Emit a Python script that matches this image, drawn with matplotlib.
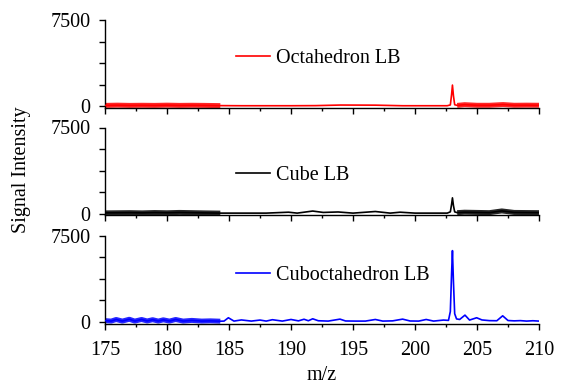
import matplotlib
matplotlib.use("Agg")
import matplotlib.pyplot as plt
import numpy as np

plt.rcParams['font.family'] = ['Liberation Serif', 'DejaVu Serif']
plt.rcParams['font.size'] = 14.5

# ---------------- data ----------------
oct_mz = [175, 176, 177, 178, 179, 180, 181, 182, 183, 184.3, 186, 188, 190, 192,
          194, 196.8, 199, 201, 202.6, 202.85, 202.95, 203.02, 203.1, 203.2, 203.4,
          204, 205, 206, 207.1, 208, 209, 210]
oct_int = [60, 80, 60, 70, 60, 80, 60, 70, 60, 40, 30, 30, 30, 40,
           90, 80, 30, 30, 30, 100, 1000, 1830, 900, 120, 60,
           120, 70, 70, 130, 70, 80, 70]

cube_mz = [175, 176, 177, 178, 179, 180, 181, 182, 183, 184.3, 186, 188, 189.8, 190.5,
           191.75, 192.6, 193.8, 195, 196.8, 198, 198.8, 200, 201.5, 202.6, 202.85,
           202.95, 203.02, 203.1, 203.2, 203.4, 204, 205, 206, 207.0, 208, 209, 210]
cube_int = [60, 70, 80, 60, 90, 70, 100, 80, 60, 40, 40, 40, 120, 40,
            220, 100, 140, 40, 180, 40, 120, 40, 40, 40, 150,
            800, 1370, 700, 150, 80, 120, 100, 80, 230, 100, 90, 80]

cub_mz = [175, 175.5, 175.9, 176.4, 176.96, 177.4, 177.95, 178.4, 178.84, 179.3, 179.7,
          180.2, 180.7, 181.3, 182, 182.8, 183.5, 184.3, 184.6, 184.95, 185.4, 186,
          186.8, 187.5, 188, 188.5, 189.3, 190, 190.6, 191.05, 191.4, 191.75, 192.2,
          193, 193.95, 194.4, 195.2, 196, 196.8, 197.4, 198.2, 199.0, 199.6, 200.3,
          200.9, 201.5, 202.3, 202.7, 202.85, 202.95, 203.02, 203.1, 203.2, 203.35,
          203.6, 204.03, 204.4, 204.97, 205.4, 206, 206.6, 207.07, 207.5, 208, 208.5,
          209, 209.5, 210]
cub_int = [100, 60, 200, 60, 220, 60, 200, 70, 180, 60, 170,
           60, 200, 60, 120, 60, 80, 50, 60, 350, 60, 160,
           60, 150, 60, 180, 60, 200, 80, 220, 90, 260, 90,
           60, 230, 70, 60, 60, 200, 60, 80, 230, 70, 60,
           200, 60, 150, 120, 900, 4200, 6200, 3500, 700, 250,
           200, 580, 150, 350, 160, 100, 90, 520, 110, 80, 100,
           60, 90, 60]

series = [
    ("Octahedron LB", oct_mz, oct_int, "#ff0000", [(175, 184.3), (203.3, 210)]),
    ("Cube LB", cube_mz, cube_int, "#000000", [(175, 184.3), (203.3, 210)]),
    ("Cuboctahedron LB", cub_mz, cub_int, "#0000ff", [(175, 184.3)]),
]

xticks = [175, 180, 185, 190, 195, 200, 205, 210]
yticks = [0, 7500]

# ---------------- layout ----------------
W, H = 562, 391
fig = plt.figure(figsize=(W / 100, H / 100), dpi=100)
left_px, right_px = 105, 539
tops_px = [20, 127.5, 235.7]
height_px = 87.8
leg_y_px = [58.3, 175, 275.7]

axes = []
for i, (name, mz, inten, col, thick) in enumerate(series):
    top = tops_px[i]
    ax = fig.add_axes([left_px / W, 1 - (top + height_px) / H,
                       (right_px - left_px) / W, height_px / H])
    mz_a = np.array(mz)
    in_a = np.array(inten)
    for lo, hi in thick:
        m = (mz_a >= lo) & (mz_a <= hi)
        ax.plot(mz_a[m], in_a[m], color=col, lw=3.6, alpha=0.85,
                solid_capstyle='butt', zorder=2)
    ax.plot(mz_a, in_a, color=col, lw=1.2, label=name, zorder=3)
    ax.set_xlim(175, 210)
    ax.set_ylim(-150, 7500)
    ax.spines['top'].set_visible(False)
    ax.spines['right'].set_visible(False)
    for s in ('left', 'bottom'):
        ax.spines[s].set_linewidth(1.0)
    ax.set_yticks(yticks)
    ax.set_yticks([1875, 3750, 5625], minor=True)
    ax.set_xticks(xticks)
    ax.set_xticks([177.5, 182.5, 187.5, 192.5, 197.5, 202.5, 207.5], minor=True)
    ax.tick_params(axis='y', which='both', direction='out', length=4.5, width=1.0, pad=5.8)
    ax.tick_params(axis='x', which='major', direction='out', length=4.5, width=1.0, pad=8)
    ax.tick_params(axis='x', which='minor', direction='out', length=2.2, width=1.0)
    if i < 2:
        ax.tick_params(axis='x', labelbottom=False)
    ax.legend(loc='center left',
              bbox_to_anchor=((236 - 105) / 434, 1 - (leg_y_px[i] - top) / height_px),
              frameon=False, handlelength=1.7, handletextpad=0.3,
              borderpad=0, borderaxespad=0, fontsize=14.5)
    axes.append(ax)

axes[2].set_xlabel("m/z", labelpad=4.5)
fig.text(22 / W, 1 - 170 / H, "Signal Intensity", rotation=90,
         ha='center', va='center', fontsize=14.5)

fig.savefig("out.png", dpi=100)
